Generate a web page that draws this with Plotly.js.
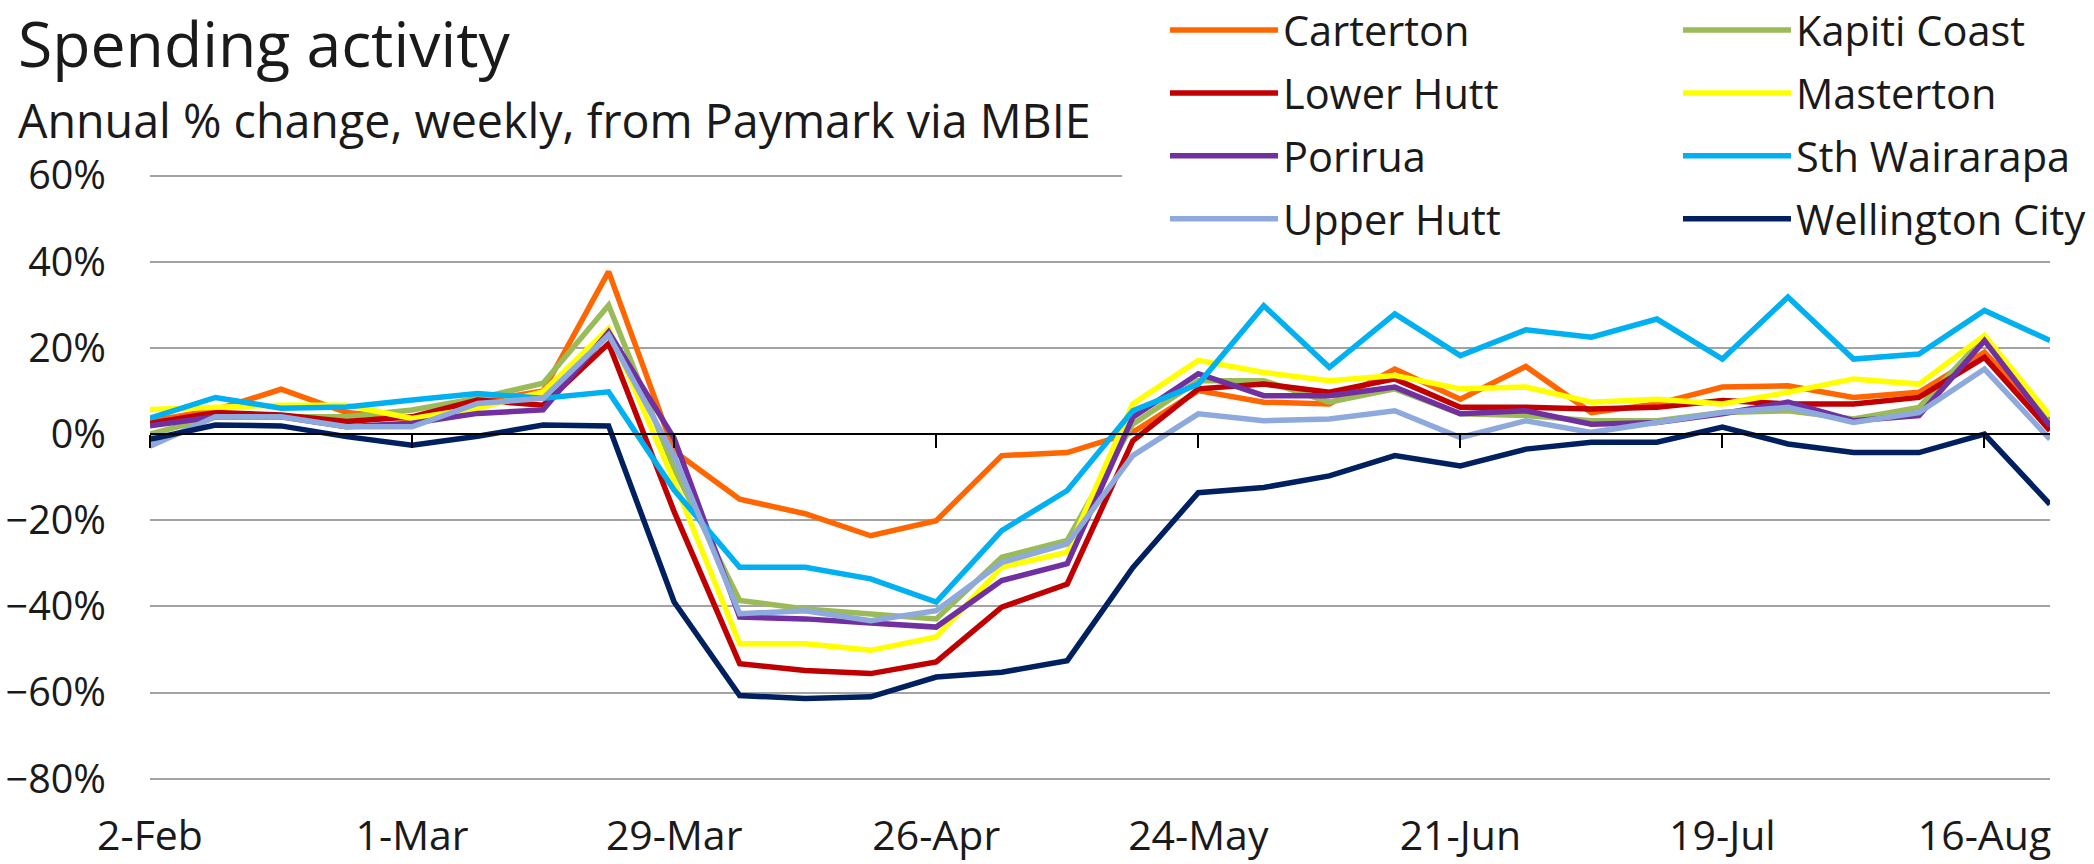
<!DOCTYPE html>
<html>
<head>
<meta charset="utf-8">
<script src="https://cdn.plot.ly/plotly-3.0.1.min.js"></script>
<style>html,body{margin:0;padding:0;background:#fff;}#chart{width:2094px;height:864px;}</style>
</head>
<body>
<div id="chart"></div>
<script>
// Weekly dates (week starting)
const weeks = [
  '2020-02-02','2020-02-09','2020-02-16','2020-02-23','2020-03-01','2020-03-08','2020-03-15','2020-03-22',
  '2020-03-29','2020-04-05','2020-04-12','2020-04-19','2020-04-26','2020-05-03','2020-05-10','2020-05-17',
  '2020-05-24','2020-05-31','2020-06-07','2020-06-14','2020-06-21','2020-06-28','2020-07-05','2020-07-12',
  '2020-07-19','2020-07-26','2020-08-02','2020-08-09','2020-08-16','2020-08-23'
];

// Annual % change, weekly
const carterton = [3, 5.6, 10.4, 5, 3.5, 7.5, 10, 37.7, -4, -15.1, -18.5, -23.6, -20.1, -5.0, -4.3, 0.4,
  10.1, 7.4, 7.0, 15.1, 8.1, 15.7, 5.0, 7, 10.9, 11.2, 8.5, 9.7, 19, 3];
const kapitiCoast = [0, 4, 4, 4, 5.6, 8.3, 11.8, 29.9, -8, -38.6, -40.6, -41.7, -42.9, -28.6, -24.7, 2.3,
  12.4, 12.4, 7.4, 10.5, 4.7, 4.3, 3.1, 3.1, 5.0, 5.4, 3.5, 6.2, 22.5, 2.3];
const lowerHutt = [2.5, 5.0, 4.4, 2.9, 4.0, 7.9, 6.7, 21.0, -18, -53.3, -54.9, -55.6, -52.9, -40.2, -34.8, -1.6,
  10.5, 11.6, 9.7, 12.8, 6.2, 6.2, 5.8, 6.2, 7.8, 7.0, 7.0, 8.5, 17.8, 0.8];
const masterton = [5.7, 6.3, 6.7, 6.7, 3.6, 6.0, 9.8, 24.5, -11, -48.7, -48.7, -50.2, -47.1, -30.9, -27.4, 7.0,
  17.1, 14.3, 12.4, 13.6, 10.5, 10.9, 7.4, 8.1, 7.0, 9.7, 12.8, 11.6, 22.9, 4.3];
const porirua = [1.9, 4.0, 4.0, 1.7, 2.5, 4.8, 5.6, 23.7, -1, -42.5, -42.9, -43.7, -44.8, -34.0, -30.1, 3.9,
  14.0, 8.9, 8.9, 10.9, 4.7, 5.4, 2.3, 2.7, 4.7, 7.4, 3.1, 4.3, 21.7, 1.9];
const sthWairarapa = [3.7, 8.5, 6.0, 6.3, 7.9, 9.4, 8.3, 9.8, -13, -30.9, -30.9, -33.6, -39.0, -22.4, -13.1, 5.4,
  11.6, 29.8, 15.5, 27.9, 18.2, 24.2, 22.5, 26.7, 17.4, 31.8, 17.4, 18.6, 28.7, 21.7];
const upperHutt = [-2.8, 4.0, 4.0, 1.7, 1.7, 7.1, 8.3, 23.0, -5, -41.7, -41.0, -43.3, -41.0, -29.8, -25.5, -5.0,
  4.7, 3.1, 3.5, 5.4, -0.8, 3.1, 0.4, 2.7, 5.0, 6.2, 2.7, 5.0, 15.1, -1.2];
const wellingtonCity = [-1.2, 2.1, 1.9, -0.6, -2.6, -0.5, 2.1, 1.9, -39, -60.7, -61.4, -61.0, -56.4, -55.3, -52.6, -31,
  -13.6, -12.4, -9.7, -5.0, -7.4, -3.5, -1.9, -1.9, 1.6, -2.3, -4.3, -4.3, 0, -16.3];

const seriesNames = ['Carterton','Kapiti Coast','Lower Hutt','Masterton','Porirua','Sth Wairarapa','Upper Hutt','Wellington City'];
const seriesValues = [carterton, kapitiCoast, lowerHutt, masterton, porirua, sthWairarapa, upperHutt, wellingtonCity];
const seriesColors = ['#FF6600','#9BBB59','#C00000','#FFFF00','#7030A0','#00B0F0','#8EA9DB','#002060'];

const FONT = '"Open Sans", "Noto Sans", sans-serif';
const TXT = '#1a1a1a';
const Y_MIN = -80.3, Y_MAX = 60.6;

const traces = seriesNames.map((name, i) => ({
  type: 'scatter',
  mode: 'lines',
  name: name,
  x: weeks,
  y: seriesValues[i],
  line: {color: seriesColors[i], width: 5.5},
  legend: (i % 2 === 0) ? 'legend' : 'legend2',
  legendgroup: 'g' + i,
  hoverinfo: 'skip'
}));

const legendBase = {
  orientation: 'v',
  xanchor: 'left',
  yanchor: 'top',
  y: 1.2908,
  bgcolor: 'rgba(255,255,255,1)',
  borderwidth: 0,
  itemwidth: 108,
  traceorder: 'grouped',
  tracegroupgap: 6,
  font: {family: FONT, size: 41.5, color: TXT}
};

const layout = {
  width: 2094,
  height: 864,
  margin: {l: 150, r: 44, t: 173.4, b: 84, pad: 0, autoexpand: false},
  paper_bgcolor: '#ffffff',
  plot_bgcolor: '#ffffff',
  showlegend: true,
  hovermode: false,
  font: {family: FONT, color: TXT},
  xaxis: {
    type: 'date',
    range: ['2020-02-02', '2020-08-23'],
    tick0: '2020-02-02',
    dtick: 28 * 24 * 3600 * 1000,
    tickformat: '%-d-%b',
    anchor: 'free',
    position: (0 - Y_MIN) / (Y_MAX - Y_MIN),
    showline: true,
    linecolor: '#000000',
    linewidth: 2,
    ticks: 'outside',
    ticklen: 13,
    tickwidth: 2,
    tickcolor: '#000000',
    showgrid: false,
    zeroline: false,
    ticklabelstandoff: 353,
    tickfont: {family: FONT, size: 41, color: TXT},
    automargin: false
  },
  yaxis: {
    range: [Y_MIN, Y_MAX],
    dtick: 20,
    tick0: 0,
    ticksuffix: '%',
    showgrid: true,
    gridcolor: '#a3a3a3',
    gridwidth: 2,
    zeroline: false,
    showline: false,
    ticks: '',
    ticklabelstandoff: 43,
    tickfont: {family: FONT, size: 39.5, color: TXT},
    automargin: false
  },
  legend: Object.assign({}, legendBase, {x: 0.5342}),
  legend2: Object.assign({}, legendBase, {x: 0.8042}),
  shapes: [{
    type: 'rect', xref: 'paper', yref: 'paper',
    x0: 0.5116, x1: 1.03, y0: 0.985, y1: 1.01,
    fillcolor: '#ffffff', line: {width: 0}, layer: 'above'
  }],
  annotations: [
    {text: 'Spending activity', xref: 'paper', yref: 'paper', x: -0.0705, y: 1.2158,
     xanchor: 'left', yanchor: 'middle', showarrow: false, font: {family: FONT, size: 62.5, color: TXT}},
    {text: 'Annual % change, weekly, from Paymark via MBIE', xref: 'paper', yref: 'paper', x: -0.0705, y: 1.0880,
     xanchor: 'left', yanchor: 'middle', showarrow: false, font: {family: FONT, size: 46.6, color: TXT}}
  ]
};

Plotly.newPlot('chart', traces, layout, {displayModeBar: false, staticPlot: true});
</script>
</body>
</html>
